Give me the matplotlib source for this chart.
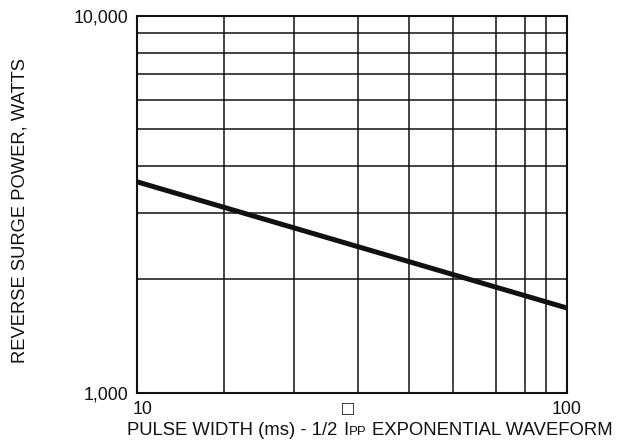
import numpy as np
import matplotlib.pyplot as plt
from matplotlib.offsetbox import TextArea, HPacker, AnnotationBbox
from matplotlib.transforms import ScaledTranslation

plt.rcParams['font.family'] = ['Liberation Sans', 'DejaVu Sans']

# curve: pulse width (ms) vs reverse surge power (W)
pulse_ms = [10, 100]
surge_w = [3630, 1680]

# x grid values and where they sit across the plot (the chart's x scale is
# not a clean log decade, so the scale follows the printed grid)
x_grid = [10, 20, 30, 40, 50, 60, 70, 80, 90, 100]
x_grid_pos = [0, 0.201, 0.364, 0.513, 0.633, 0.734, 0.834, 0.902, 0.951, 1]
x_tick_labels = ['10', '', '', '□', '', '', '', '', '', '100']

y_grid = [1000, 2000, 3000, 4000, 5000, 6000, 7000, 8000, 9000, 10000]
y_tick_labels = ['1,000', '', '', '', '', '', '', '', '', '10,000']

log_grid = np.log10(x_grid)


def x_forward(x):
    x = np.clip(np.asarray(x, dtype=float), 1e-9, None)
    return np.interp(np.log10(x), log_grid, x_grid_pos)


def x_inverse(p):
    return 10 ** np.interp(np.asarray(p, dtype=float), x_grid_pos, log_grid)


fig = plt.figure(figsize=(6.21, 4.45), dpi=100)
ax = fig.add_axes([0.2211, 0.1169, 0.692, 0.8472])

ax.set_xscale('function', functions=(x_forward, x_inverse))
ax.set_yscale('log')
ax.set_xlim(10, 100)
ax.set_ylim(1000, 10000)

ax.plot(pulse_ms, surge_w, color='#111111', lw=3.6, solid_capstyle='butt')

ax.set_xticks(x_grid, labels=x_tick_labels)
ax.set_yticks(y_grid, labels=y_tick_labels)
ax.minorticks_off()
ax.tick_params(length=0, labelsize=12.8, colors='#111111')
ax.tick_params(axis='x', pad=6)
ax.tick_params(axis='y', pad=6.5)
ax.grid(True, color='#111111', lw=1.1)
for s in ax.spines.values():
    s.set_linewidth(1.5)
    s.set_color('#111111')

# nudge the x labels to where they sit in the original
xl = ax.get_xticklabels()
xl[0].set_transform(xl[0].get_transform() + ScaledTranslation(0.05, 0, fig.dpi_scale_trans))
xl[3].set_transform(xl[3].get_transform() + ScaledTranslation(-0.10, 0.01, fig.dpi_scale_trans))
xl[3].set_fontsize(14.5)
xl[3].set_fontweight('bold')

ax.set_ylabel('REVERSE SURGE POWER, WATTS', fontsize=13.2, color='#111111', va='center')
ax.yaxis.set_label_coords(-0.274, 0.485)

# x label with the small "PP" of IPP sitting on the baseline
big = dict(fontsize=13.3, color='#111111')
small = dict(fontsize=9.5, color='#111111')
ipp = HPacker(children=[TextArea('I', textprops=big), TextArea('PP', textprops=small)],
              align='baseline', pad=0, sep=0.5)
xlabel = HPacker(children=[TextArea('PULSE WIDTH (ms) - 1/2', textprops=big), ipp,
                           TextArea('EXPONENTIAL WAVEFORM', textprops=big)],
                 align='baseline', pad=0, sep=4)
ab = AnnotationBbox(xlabel, (0.596, 0.0124), xycoords='figure fraction',
                    box_alignment=(0.5, 0), frameon=False, pad=0)
fig.add_artist(ab)

fig.savefig('out.png', dpi=100)
